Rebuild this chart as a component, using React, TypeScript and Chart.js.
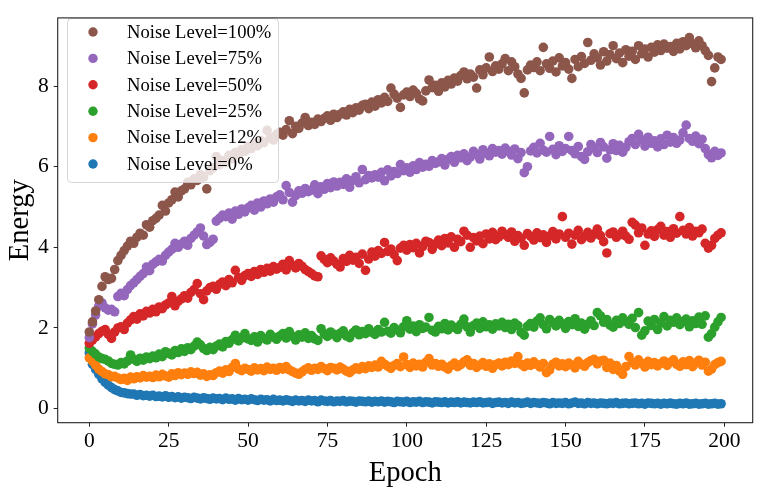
import { useEffect, useRef } from 'react';
import Chart from 'chart.js/auto';

const epochs: number[] = Array.from({ length: 200 }, (_, i) => i);

const seriesLabels = [
  'Noise Level=100%',
  'Noise Level=75%',
  'Noise Level=50%',
  'Noise Level=25%',
  'Noise Level=12%',
  'Noise Level=0%',
];

const seriesColors = ['#8c564b', '#9467bd', '#d62728', '#2ca02c', '#ff7f0e', '#1f77b4'];

const xTicks = [0, 25, 50, 75, 100, 125, 150, 175, 200];
const yTicks = [0, 2, 4, 6, 8];

// Energy per epoch
const noise100 = [
  1.90, 2.15, 2.42, 2.70, 3.03, 3.27, 3.20, 3.23, 3.45, 3.67,
  3.80, 3.92, 4.03, 4.15, 4.10, 4.25, 4.35, 4.30, 4.56, 4.50,
  4.66, 4.72, 4.80, 5.04, 4.90, 5.10, 5.18, 5.37, 5.25, 5.40,
  5.45, 5.61, 5.55, 5.70, 5.66, 5.80, 5.74, 5.45, 5.90, 5.98,
  6.25, 6.05, 6.15, 6.10, 6.28, 6.20, 6.35, 6.30, 6.42, 6.38,
  6.50, 6.45, 6.58, 6.52, 6.65, 6.60, 6.90, 6.72, 6.66, 6.80,
  6.85, 6.78, 6.92, 7.14, 6.82, 7.00, 6.95, 7.08, 7.22, 7.02,
  7.10, 7.05, 7.18, 7.12, 7.20, 7.26, 7.15, 7.30, 7.22, 7.30,
  7.36, 7.28, 7.42, 7.34, 7.46, 7.40, 7.52, 7.55, 7.44, 7.60,
  7.50, 7.66, 7.58, 7.72, 7.62, 7.95, 7.80, 7.70, 7.47, 7.78,
  7.85, 7.74, 7.90, 7.82, 7.68, 7.63, 7.88, 8.15, 7.96, 8.02,
  7.87, 8.08, 7.98, 8.14, 8.05, 8.20, 8.12, 8.26, 8.35, 8.18,
  8.30, 8.22, 7.95, 8.40, 8.28, 8.45, 8.72, 8.36, 8.50, 8.42,
  8.55, 8.68, 8.38, 8.60, 8.48, 8.30, 8.19, 7.83, 8.40, 8.52,
  8.46, 8.60, 8.38, 8.96, 8.55, 8.44, 8.62, 8.35, 8.70, 8.50,
  8.58, 8.42, 8.19, 8.66, 8.48, 8.73, 8.56, 9.08, 8.64, 8.80,
  8.70, 8.52, 8.85, 8.62, 8.78, 9.00, 8.68, 8.82, 8.58, 8.90,
  8.74, 8.86, 8.66, 9.00, 8.80, 8.92, 8.72, 8.96, 8.84, 9.02,
  8.88, 9.04, 8.94, 8.98, 8.86, 9.06, 8.92, 9.10, 9.00, 9.20,
  9.05, 8.95, 9.12, 9.00, 8.88, 8.76, 8.11, 8.45, 8.72, 8.66,
];

const noise75 = [
  1.76, 2.10, 2.32, 2.55, 2.62, 2.50, 2.44, 2.46, 2.40, 2.78,
  2.86, 2.80, 2.95, 3.05, 3.12, 3.20, 3.28, 3.35, 3.51, 3.42,
  3.58, 3.64, 3.70, 3.66, 3.80, 3.88, 3.95, 4.10, 4.00, 4.08,
  4.15, 4.05, 4.22, 4.30, 4.38, 4.48, 4.28, 4.07, 4.12, 4.20,
  4.65, 4.72, 4.80, 4.76, 4.85, 4.70, 4.90, 4.82, 4.95, 4.88,
  4.98, 5.04, 4.92, 5.10, 5.00, 5.15, 5.08, 5.20, 5.12, 5.25,
  5.30, 5.18, 5.53, 5.36, 5.12, 5.28, 5.40, 5.34, 5.46, 5.38,
  5.42, 5.55, 5.33, 5.50, 5.44, 5.58, 5.48, 5.62, 5.52, 5.61,
  5.56, 5.70, 5.49, 5.66, 5.75, 5.60, 5.93, 5.68, 5.78, 5.72,
  5.80, 5.74, 5.86, 5.65, 5.92, 5.77, 5.88, 5.83, 6.05, 5.90,
  5.97, 5.86, 6.02, 5.93, 6.10, 5.99, 6.06, 6.01, 6.15, 6.08,
  6.12, 6.20, 6.04, 6.18, 6.25, 6.11, 6.28, 6.22, 6.32, 6.15,
  6.24, 6.38, 6.30, 6.19, 6.42, 6.33, 6.27, 6.45, 6.36, 6.40,
  6.31, 6.46, 6.38, 6.29, 6.44, 6.20, 6.35, 5.85, 6.00, 6.39,
  6.48, 6.34, 6.58, 6.41, 6.36, 6.75, 6.43, 6.30, 6.52, 6.38,
  6.45, 6.75, 6.40, 6.32, 6.50, 6.25, 6.18, 6.37, 6.55, 6.46,
  6.35, 6.60, 6.49, 6.21, 6.42, 6.57, 6.40, 6.53, 6.36, 6.48,
  6.62, 6.70, 6.55, 6.80, 6.66, 6.51, 6.73, 6.58, 6.64, 6.49,
  6.69, 6.55, 6.78, 6.61, 6.72, 6.58, 6.66, 6.84, 7.03, 6.70,
  6.63, 6.76, 6.57, 6.68, 6.45, 6.30, 6.22, 6.38, 6.28, 6.34,
];

const noise50 = [
  1.62, 1.70, 1.78, 1.86, 1.92, 1.96, 1.84, 1.74, 1.90, 2.00,
  2.03, 1.96, 2.12, 2.20, 2.28, 2.22, 2.35, 2.30, 2.41, 2.37,
  2.46, 2.40, 2.52, 2.48, 2.57, 2.62, 2.78, 2.55, 2.66, 2.72,
  2.80, 2.74, 2.88, 2.95, 3.10, 2.85, 2.70, 2.92, 3.00, 3.03,
  2.96, 3.08, 3.14, 3.05, 3.20, 3.12, 3.43, 3.25, 3.18, 3.30,
  3.35, 3.28, 3.40, 3.33, 3.45, 3.38, 3.48, 3.41, 3.52, 3.46,
  3.50, 3.58, 3.44, 3.67, 3.55, 3.49, 3.60, 3.53, 3.45, 3.40,
  3.35, 3.29, 3.27, 3.79, 3.70, 3.62, 3.74, 3.66, 3.58, 3.51,
  3.72, 3.65, 3.80, 3.68, 3.75, 3.60, 3.83, 3.43, 3.71, 3.88,
  3.78, 3.92, 3.85, 4.12, 3.90, 3.96, 3.82, 3.67, 3.98, 4.05,
  3.93, 4.07, 3.99, 4.10, 3.86, 4.02, 4.15, 4.12, 3.95, 4.08,
  4.18, 4.04, 4.22, 4.11, 4.26, 4.00, 4.20, 4.14, 4.40, 4.30,
  4.00, 4.24, 4.16, 4.28, 4.09, 4.33, 4.21, 4.37, 4.19, 4.26,
  4.40, 4.31, 4.25, 4.38, 4.15, 4.29, 4.22, 4.05, 4.34, 4.27,
  4.18, 4.36, 4.24, 4.31, 4.12, 4.28, 4.39, 4.21, 4.33, 4.76,
  4.25, 4.35, 4.08, 4.30, 4.42, 4.19, 4.27, 4.37, 4.23, 4.32,
  4.45, 4.29, 4.14, 3.86, 4.34, 4.38, 4.25, 4.31, 4.40, 4.28,
  4.20, 4.62, 4.55, 4.36, 4.48, 4.05, 4.33, 4.41, 4.27, 4.44,
  4.52, 4.30, 4.39, 4.25, 4.46, 4.35, 4.76, 4.42, 4.33, 4.49,
  4.28, 4.40, 4.36, 4.45, 4.10, 3.98, 4.05, 4.22, 4.30, 4.36,
];

const noise25 = [
  1.50, 1.42, 1.35, 1.28, 1.24, 1.22, 1.18, 1.12, 1.10, 1.08,
  1.14, 1.11, 1.18, 1.33, 1.22, 1.17, 1.25, 1.20, 1.28, 1.24,
  1.30, 1.26, 1.35, 1.29, 1.41, 1.37, 1.33, 1.44, 1.39, 1.48,
  1.42, 1.51, 1.46, 1.55, 1.65, 1.58, 1.49, 1.44, 1.52, 1.46,
  1.55, 1.60, 1.53, 1.66, 1.62, 1.71, 1.82, 1.68, 1.75, 1.86,
  1.73, 1.69, 1.78, 1.65, 1.81, 1.74, 1.70, 1.84, 1.77, 1.72,
  1.80, 1.86, 1.75, 1.91, 1.79, 1.70, 1.83, 1.77, 1.88, 1.74,
  1.81, 1.73, 1.69, 1.98, 1.85, 1.79, 1.90, 1.84, 1.76, 1.87,
  1.93, 1.80, 1.76, 1.88, 1.95, 1.83, 1.91, 1.86, 1.98, 1.89,
  1.84, 1.96, 1.90, 2.14, 1.92, 1.87, 2.01, 1.95, 1.88, 2.03,
  2.18, 1.97, 2.05, 1.91, 2.08, 1.99, 2.02, 2.26, 1.94, 1.90,
  2.04, 1.98, 2.11, 1.95, 2.07, 2.01, 1.96, 2.09, 2.22, 2.03,
  1.90, 2.06, 2.12, 1.99, 2.15, 2.03, 2.08, 1.97, 2.10, 2.05,
  2.14, 2.01, 2.09, 1.96, 2.12, 2.06, 1.89, 1.82, 2.04, 2.11,
  2.02, 2.17, 2.25, 2.08, 1.98, 2.21, 2.13, 2.05, 2.19, 2.10,
  1.99, 2.16, 2.08, 2.23, 2.04, 2.12, 1.97, 2.09, 2.18, 2.06,
  2.38, 2.30, 2.14, 2.21, 2.07, 2.02, 2.19, 2.11, 2.25, 2.16,
  2.09, 2.24, 2.01, 2.38, 1.82, 1.93, 2.17, 2.06, 2.21, 1.96,
  2.12, 2.28, 2.05, 2.19, 2.14, 2.25, 2.08, 2.16, 2.22, 2.03,
  2.18, 2.11, 2.27, 2.09, 2.30, 1.77, 1.86, 2.02, 2.15, 2.26,
];

const noise12 = [
  1.26, 1.18, 1.08, 0.98, 0.92, 0.86, 0.84, 0.79, 0.80, 0.76,
  0.72, 0.75, 0.70, 0.78, 0.74, 0.79, 0.76, 0.82, 0.78, 0.80,
  0.77, 0.83, 0.79, 0.85, 0.81, 0.78, 0.86, 0.82, 0.89, 0.84,
  0.88, 0.85, 0.91, 0.87, 0.90, 0.83, 0.86, 0.80, 0.84, 0.82,
  0.89, 0.93, 0.88, 0.96, 0.92, 1.02, 1.12, 0.98, 0.94, 1.00,
  0.97, 0.93, 1.01, 0.96, 0.99, 0.94, 1.03, 0.97, 1.00, 0.95,
  1.02, 0.98, 1.04, 0.96, 0.92, 0.88, 0.85, 0.91, 0.97, 1.01,
  0.95, 1.00, 0.97, 1.04, 0.99, 0.94, 1.02, 1.00, 0.96, 1.03,
  0.98, 0.93, 0.89, 0.96, 1.01, 0.97, 1.04, 0.99, 1.06, 1.02,
  1.08, 1.03, 1.17, 1.10, 1.05, 1.00, 1.07, 1.12, 1.04, 1.28,
  1.09, 1.02, 1.13, 1.06, 1.10, 1.03, 1.15, 1.24, 1.08, 1.12,
  1.05, 1.10, 1.03, 0.98, 1.07, 1.13, 1.04, 1.09, 1.16, 1.21,
  1.07, 1.12, 1.02, 1.08, 1.14, 1.05, 1.11, 1.00, 1.09, 1.13,
  1.06, 1.15, 1.09, 1.18, 1.12, 1.29, 1.10, 1.04, 1.13, 1.07,
  1.16, 1.09, 1.03, 1.12, 0.89, 0.96, 1.10, 1.15, 1.06, 1.11,
  1.04, 1.13, 1.08, 1.01, 1.17, 1.10, 1.05, 1.14, 1.19, 1.22,
  1.11, 1.18, 1.20, 1.02, 1.13, 0.97, 1.07, 0.93, 0.85, 1.04,
  1.29, 1.15, 1.08, 1.21, 1.12, 1.03, 1.17, 1.09, 1.14, 1.06,
  1.12, 1.18, 1.07, 1.15, 1.21, 1.10, 1.05, 1.16, 1.09, 1.19,
  1.04, 1.13, 1.20, 1.08, 1.15, 0.93, 0.98, 1.09, 1.14, 1.17,
];

const noise0 = [
  1.38, 1.10, 0.97, 0.85, 0.74, 0.65, 0.58, 0.52, 0.47, 0.44,
  0.40, 0.39, 0.37, 0.36, 0.36, 0.33, 0.35, 0.32, 0.33, 0.31,
  0.33, 0.30, 0.31, 0.29, 0.32, 0.28, 0.30, 0.27, 0.29, 0.26,
  0.28, 0.27, 0.25, 0.28, 0.26, 0.24, 0.27, 0.25, 0.23, 0.26,
  0.24, 0.25, 0.22, 0.26, 0.23, 0.24, 0.21, 0.25, 0.22, 0.23,
  0.21, 0.24, 0.22, 0.20, 0.23, 0.21, 0.22, 0.19, 0.23, 0.20,
  0.21, 0.19, 0.22, 0.20, 0.18, 0.21, 0.19, 0.20, 0.18, 0.21,
  0.19, 0.20, 0.17, 0.21, 0.19, 0.18, 0.20, 0.17, 0.19, 0.18,
  0.20, 0.17, 0.19, 0.18, 0.16, 0.19, 0.18, 0.17, 0.19, 0.16,
  0.18, 0.17, 0.19, 0.16, 0.18, 0.17, 0.15, 0.18, 0.17, 0.16,
  0.18, 0.15, 0.17, 0.16, 0.18, 0.15, 0.17, 0.16, 0.14, 0.17,
  0.16, 0.15, 0.17, 0.14, 0.16, 0.15, 0.17, 0.14, 0.16, 0.15,
  0.14, 0.16, 0.15, 0.17, 0.14, 0.15, 0.16, 0.13, 0.15, 0.16,
  0.14, 0.15, 0.13, 0.16, 0.14, 0.15, 0.13, 0.14, 0.16, 0.13,
  0.15, 0.14, 0.13, 0.15, 0.14, 0.12, 0.15, 0.13, 0.14, 0.13,
  0.15, 0.12, 0.14, 0.16, 0.13, 0.14, 0.12, 0.15, 0.13, 0.14,
  0.12, 0.14, 0.13, 0.12, 0.14, 0.13, 0.15, 0.12, 0.13, 0.14,
  0.12, 0.13, 0.14, 0.12, 0.13, 0.11, 0.14, 0.13, 0.12, 0.13,
  0.11, 0.13, 0.12, 0.14, 0.12, 0.11, 0.13, 0.12, 0.14, 0.11,
  0.12, 0.13, 0.11, 0.12, 0.13, 0.11, 0.12, 0.13, 0.11, 0.12,
];

const seriesValues = [noise100, noise75, noise50, noise25, noise12, noise0];

const SERIF = '"Liberation Serif", "Times New Roman", serif';

// matplotlib-style legend: translucent box drawn over the points
const legendBox = {
  id: 'legendBox',
  afterDatasetsDraw(chart: Chart) {
    const ctx = chart.ctx;
    ctx.save();
    ctx.beginPath();
    ctx.roundRect(67.5, 18.5, 211, 164, 4);
    ctx.fillStyle = 'rgba(255,255,255,0.8)';
    ctx.fill();
    ctx.strokeStyle = 'rgba(204,204,204,0.8)';
    ctx.lineWidth = 1;
    ctx.stroke();
    ctx.font = `18.6px ${SERIF}`;
    ctx.textBaseline = 'middle';
    chart.data.datasets.forEach((ds: any, i: number) => {
      const cy = 32 + i * 26.4;
      ctx.beginPath();
      ctx.arc(93, cy, 4.7, 0, Math.PI * 2);
      ctx.fillStyle = ds.backgroundColor;
      ctx.fill();
      ctx.fillStyle = '#000';
      ctx.fillText(ds.label, 127, cy + 1);
    });
    ctx.restore();
  },
};

const frame = {
  id: 'frame',
  afterDraw(chart: Chart) {
    const { ctx, chartArea: a } = chart;
    ctx.save();
    ctx.strokeStyle = '#222';
    ctx.lineWidth = 1.1;
    ctx.strokeRect(a.left, a.top, a.right - a.left, a.bottom - a.top);
    ctx.restore();
  },
};

const EnergyChart = () => {
  const canvasRef = useRef<HTMLCanvasElement | null>(null);
  const chartRef = useRef<Chart | null>(null);

  useEffect(() => {
    document.body.style.margin = '0';
    if (!canvasRef.current) return;
    const ctx = canvasRef.current.getContext('2d');
    if (!ctx) return;
    if (chartRef.current) chartRef.current.destroy();

    chartRef.current = new Chart(ctx, {
      type: 'scatter',
      data: {
        datasets: seriesLabels.map((label, i) => ({
          label,
          data: epochs.map((e, j) => ({ x: e, y: seriesValues[i][j] })),
          backgroundColor: seriesColors[i],
          borderWidth: 0,
          pointRadius: 4.8,
          pointHoverRadius: 4.8,
        })),
      },
      options: {
        responsive: false,
        animation: false,
        layout: { padding: { top: 8.3, right: 9.3, left: 0, bottom: 0 } },
        plugins: {
          legend: { display: false },
          tooltip: { enabled: false },
        },
        scales: {
          x: {
            type: 'linear',
            min: -9.95,
            max: 208.95,
            afterBuildTicks: (axis: any) => {
              axis.ticks = xTicks.map(v => ({ value: v }));
            },
            afterFit: (axis: any) => {
              axis.height = 67.3;
            },
            grid: { drawOnChartArea: false, tickLength: 4, color: '#222', lineWidth: 1 },
            border: { display: false },
            ticks: { color: '#000', padding: 2, font: { family: SERIF, size: 21.5 } },
            title: {
              display: true,
              text: 'Epoch',
              color: '#000',
              font: { family: SERIF, size: 28.6, lineHeight: 1 },
              padding: { top: 0, bottom: 2 },
            },
          },
          y: {
            type: 'linear',
            min: -0.35,
            max: 9.69,
            afterBuildTicks: (axis: any) => {
              axis.ticks = yTicks.map(v => ({ value: v }));
            },
            afterFit: (axis: any) => {
              axis.width = 57.7;
            },
            grid: { drawOnChartArea: false, tickLength: 4, color: '#222', lineWidth: 1 },
            border: { display: false },
            ticks: { color: '#000', padding: 5, font: { family: SERIF, size: 21.5 } },
            title: {
              display: true,
              text: 'Energy',
              color: '#000',
              font: { family: SERIF, size: 28.6, lineHeight: 1 },
              padding: { top: 6.5, bottom: 0 },
            },
          },
        },
      },
      plugins: [legendBox, frame],
    });

    return () => {
      if (chartRef.current) {
        chartRef.current.destroy();
        chartRef.current = null;
      }
    };
  }, []);

  return (
    <div style={{ width: 762, height: 490, position: 'relative' }}>
      <canvas ref={canvasRef} width={762} height={490} style={{ width: 762, height: 490 }} />
    </div>
  );
};

export default function App() {
  return <EnergyChart />;
}
